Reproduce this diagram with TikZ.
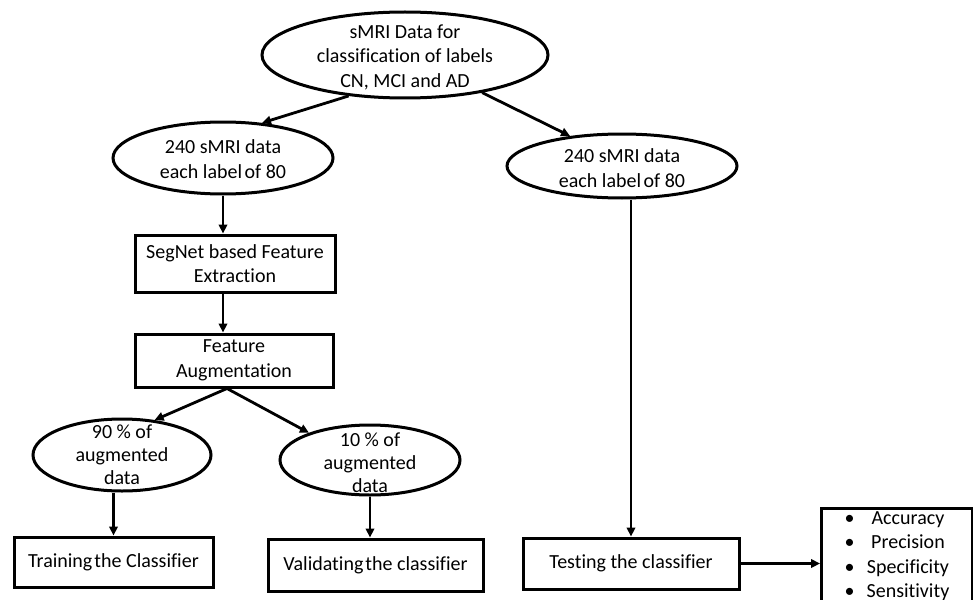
\documentclass[tikz,border=0pt]{standalone}
\usepackage{fontspec}
\setmainfont[Ligatures=NoCommon]{Carlito}
\usetikzlibrary{shapes.geometric,arrows.meta}

\tikzset{
  every node/.style={font=\fontsize{20}{24.5}\selectfont},
  ell/.style={draw, ellipse, line width=3pt, inner sep=0pt},
  ellcap/.style={align=center, inner sep=0pt},
  box/.style={draw, rectangle, line width=3pt, inner sep=0pt, align=center},
  flow/.style={line width=2.8pt, -{Triangle[length=9pt,width=8.5pt]}},
}

\begin{document}
\begin{tikzpicture}[x=1pt, y=-1pt]
  \useasboundingbox (0,0) rectangle (973,599);

  % data sources
  \node[ell, minimum width=286, minimum height=86,
        label={[ellcap, yshift=-2pt]center:sMRI Data for\\classification of labels\\CN, MCI and AD}]
        (src) at (405,55) {};
  \node[ell, minimum width=220, minimum height=72,
        label={[ellcap, yshift=-1pt]center:240 sMRI data\\each label\hspace{-2pt} of 80}]
        (train) at (223,158) {};
  \node[ell, minimum width=230, minimum height=64,
        label={[ellcap, yshift=-2pt]center:240 sMRI data\\each label\hspace{-2pt} of 80}]
        (test) at (622,166) {};

  % training branch
  \node[box, minimum width=200, minimum height=57] (seg) at (235,263.5)
        {SegNet based Feature\\Extraction};
  \node[box, minimum width=198, minimum height=53] (aug) at (234,360.5)
        {Feature\\Augmentation};
  \node[ell, minimum width=178, minimum height=72,
        label={[ellcap, font=\fontsize{20}{23}\selectfont]center:90 \% of\\augmented\\data}]
        (ninety) at (122,455) {};
  \node[ell, minimum width=180, minimum height=70,
        label={[ellcap, yshift=-3pt, font=\fontsize{20}{23}\selectfont]center:10 \% of\\augmented\\data}]
        (ten) at (370,460) {};
  \node[box, minimum width=199, minimum height=50] (trn) at (113.5,562)
        {Training\hspace{-2.5pt} the Classifier};
  \node[box, minimum width=215, minimum height=52] (val) at (375.5,565)
        {Validating\hspace{-2.5pt} the classifier};

  % testing branch
  \node[box, minimum width=216, minimum height=51] (tst) at (631,563.5)
        {Testing the classifier};
  \node[box, minimum width=151, minimum height=110, anchor=north west]
        (met) at (820,507) {};
  \node[anchor=north, inner sep=0pt] (metlist) at (met.north)
        {\begin{tabular}{@{}c@{\hspace{12pt}}c@{}}
          \textbullet & Accuracy\\
          \textbullet & Precision\\
          \textbullet & Specificity\\
          \textbullet & Sensitivity
         \end{tabular}};

  % connectors
  \draw[flow] (src.216) -- (train.42);
  \draw[flow] (src.334) -- (test.150);
  \draw[flow] (train.south) -- (train.south |- seg.north);
  \draw[flow] (train.south |- seg.south) -- (train.south |- aug.north);
  \draw[flow] ([xshift=-7pt]aug.south) -- (ninety.47);
  \draw[flow] ([xshift=-7pt]aug.south) -- (ten.156);
  \draw[flow] (trn.north |- ninety.south) -- (trn.north);
  \draw[flow] (ten.south) -- (ten.south |- val.north);
  \draw[flow] (tst.north |- test.south) -- (tst.north);
  \draw[flow] (tst.east) -- (tst.east -| met.west);
\end{tikzpicture}
\end{document}
